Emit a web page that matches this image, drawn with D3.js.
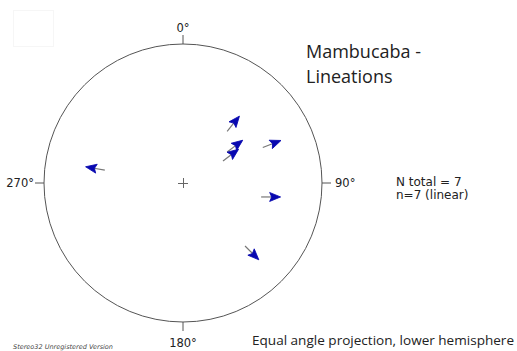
<!DOCTYPE html>
<html><head><meta charset="utf-8">
<script src="https://cdn.jsdelivr.net/npm/d3@7"></script>
<style>body{margin:0;background:#fff}svg{display:block}</style>
</head><body>
<script>
// Lineation data (trend, plunge in degrees) and arrow azimuths
const trends   = [40.3, 54.6, 59.7, 66.3, 99.0, 135.4, 279.4];
const plunges  = [31.4, 40.6, 46.4, 20.0, 24.6, 19.4, 24.6];
const arrowAz  = [39, 53, 53, 69, 90, 135, 280];
const tickAngles = [0, 90, 180, 270];
const tickLabels = ["0°", "90°", "180°", "270°"];
const title = ["Mambucaba -", "Lineations"];
const stats = ["N total = 7", "n=7 (linear)"];

const W = 517, H = 351, cx = 183, cy = 183, R = 139;
const svg = d3.select("body").append("svg").attr("width", W).attr("height", H);

// equal-angle (stereographic) radial scale: plunge -> radius
const rScale = p => R * Math.tan((90 - p) / 2 * Math.PI / 180);
const azScale = d3.scaleLinear().domain([0, 360]).range([0, 2 * Math.PI]);
const pos = (t, p) => {
  const a = azScale(t), r = rScale(p);
  return [cx + r * Math.sin(a), cy - r * Math.cos(a)];
};

// faint frame top-left
svg.append("rect").attr("x", 13.5).attr("y", 10.5).attr("width", 40).attr("height", 36)
  .attr("fill", "none").attr("stroke", "#f6f6f6").attr("stroke-width", 1);

svg.append("circle").attr("cx", cx).attr("cy", cy).attr("r", R)
  .attr("fill", "none").attr("stroke", "#555").attr("stroke-width", 1);

// ticks
tickAngles.forEach((t, i) => {
  const a = azScale(t);
  const x1 = cx + R * Math.sin(a), y1 = cy - R * Math.cos(a);
  const x2 = cx + (R + 9) * Math.sin(a), y2 = cy - (R + 9) * Math.cos(a);
  svg.append("line").attr("x1", x1).attr("y1", y1).attr("x2", x2).attr("y2", y2)
    .attr("stroke", "#555").attr("stroke-width", 1);
  const lx = cx + (R + 13) * Math.sin(a), ly = cy - (R + 13) * Math.cos(a);
  const anchor = t === 90 ? "start" : t === 270 ? "end" : "middle";
  const dy = t === 0 ? 1 : t === 180 ? 12 : 4;
  svg.append("text").attr("x", lx + (t === 270 ? 3 : 0)).attr("y", ly + dy).attr("text-anchor", anchor)
    .attr("font-family", "DejaVu Sans, sans-serif").attr("font-size", 11.5).attr("fill", "#222")
    .text(tickLabels[i]);
});

// center cross
svg.append("path").attr("d", `M${cx-5},${cy+0.5}H${cx+5}M${cx+0.5},${cy-5}V${cy+5}`)
  .attr("stroke", "#666").attr("stroke-width", 1);

// arrows
trends.forEach((t, i) => {
  const [x, y] = pos(t, plunges[i]);
  const g = svg.append("g").attr("transform", `translate(${x},${y}) rotate(${arrowAz[i]})`);
  g.append("line").attr("x1", 0).attr("y1", 10).attr("x2", 0).attr("y2", -1)
    .attr("stroke", "#777").attr("stroke-width", 1.2);
  g.append("path").attr("d", "M0,-9.5 L4.5,1.5 L0,-0.5 L-4.5,1.5 Z").attr("fill", "#0808b0")
    .attr("stroke", "#0808b0").attr("stroke-width", 0.8).attr("stroke-linejoin", "round");
});

// title
svg.append("text").attr("x", 306).attr("y", 58).attr("font-family", "Open Sans, sans-serif")
  .attr("font-size", 18).attr("fill", "#222").text(title[0]);
svg.append("text").attr("x", 306).attr("y", 83).attr("font-family", "Open Sans, sans-serif")
  .attr("font-size", 18).attr("fill", "#222").text(title[1]);

svg.append("text").attr("x", 396).attr("y", 186).attr("font-family", "DejaVu Sans, sans-serif")
  .attr("font-size", 12).attr("fill", "#222").text(stats[0]);
svg.append("text").attr("x", 396).attr("y", 199).attr("font-family", "DejaVu Sans, sans-serif")
  .attr("font-size", 12).attr("fill", "#222").text(stats[1]);

svg.append("text").attr("x", 252).attr("y", 345).attr("font-family", "Open Sans, sans-serif")
  .attr("font-size", 13.5).attr("textLength", 262).attr("lengthAdjust", "spacingAndGlyphs")
  .attr("fill", "#222").text("Equal angle projection, lower hemisphere");

svg.append("text").attr("x", 13).attr("y", 349).attr("font-family", "DejaVu Sans, sans-serif")
  .attr("font-size", 6.5).attr("font-style", "italic").attr("fill", "#444").text("Stereo32  Unregistered Version");
</script>
</body></html>
